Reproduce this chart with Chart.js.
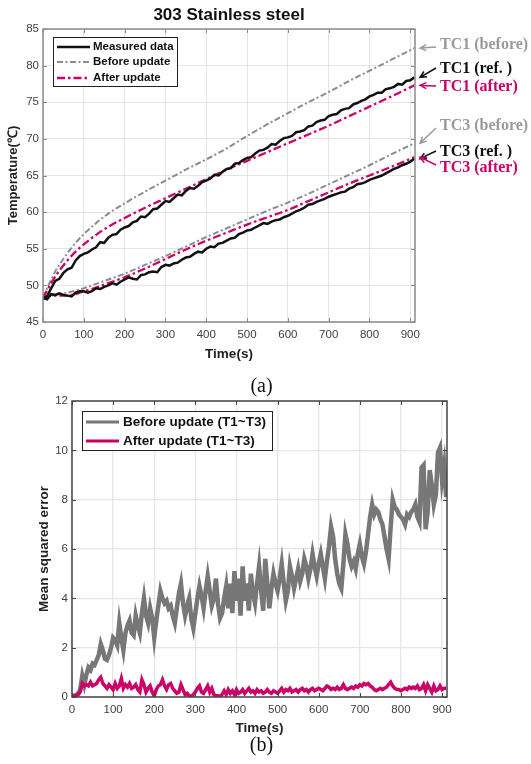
<!DOCTYPE html>
<html>
<head>
<meta charset="utf-8">
<script src="https://cdn.jsdelivr.net/npm/chart.js@4.4.1/dist/chart.umd.min.js"></script>
<style>
  body { margin: 0; background: #fff; }
  #wrap { position: relative; width: 531px; height: 764px; overflow: hidden; }
  canvas { position: absolute; left: 0; }
  #tempChart { top: 0; }
  #mseChart { top: 380px; }
  .cap { position: absolute; left: -4px; width: 531px; text-align: center; font-family: "Liberation Serif", "Times New Roman", serif; font-size: 20px; line-height: 24px; color: #111; }
</style>
</head>
<body>
<div id="wrap">
  <canvas id="tempChart" width="531" height="362"></canvas>
  <canvas id="mseChart" width="531" height="356"></canvas>
  <div class="cap" style="top:373px">(a)</div>
  <div class="cap" style="top:732px">(b)</div>
</div>
<script>
// ---- (a) temperature data ----
const measTime = [0, 10, 20, 30, 40, 50, 60, 70, 80, 90, 100, 110, 120, 130, 140, 150, 160, 170, 180, 190,
  200, 210, 220, 230, 240, 250, 260, 270, 280, 290, 300, 310, 320, 330, 340, 350, 360, 370, 380, 390,
  400, 410, 420, 430, 440, 450, 460, 470, 480, 490, 500, 510, 520, 530, 540, 550, 560, 570, 580, 590,
  600, 610, 620, 630, 640, 650, 660, 670, 680, 690, 700, 710, 720, 730, 740, 750, 760, 770, 780, 790,
  800, 810, 820, 830, 840, 850, 860, 870, 880, 890, 900, 910];
const tc1Measured = [48.2, 48.5, 49.6, 50.6, 50.9, 51.7, 52.2, 52.4, 53.4, 54.0, 54.3, 54.5, 54.9, 55.2, 55.9, 55.8, 56.5, 56.9, 57.0, 57.6,
  57.9, 58.1, 58.6, 58.8, 59.4, 59.3, 59.8, 60.4, 60.5, 61.0, 61.5, 61.4, 61.9, 62.4, 62.3, 62.9, 63.3, 63.2, 63.6, 64.1,
  64.3, 64.6, 65.1, 65.0, 65.5, 65.9, 66.0, 66.6, 66.7, 67.1, 67.4, 67.5, 68.0, 68.4, 68.5, 68.8, 69.3, 69.2, 69.7, 70.1,
  70.2, 70.4, 70.9, 71.0, 71.2, 71.7, 71.8, 72.3, 72.5, 72.6, 73.1, 73.3, 73.4, 73.9, 74.1, 74.2, 74.7, 74.9, 75.2, 75.4,
  75.8, 76.0, 76.3, 76.3, 76.8, 76.9, 77.1, 77.5, 77.4, 77.9, 78.0, 78.4];
const tc3Measured = [48.3, 48.1, 48.8, 48.7, 48.9, 48.7, 48.6, 48.5, 49.0, 49.2, 49.2, 49.0, 49.2, 49.6, 49.5, 49.8, 50.0, 50.3, 50.1, 50.5,
  50.8, 51.1, 50.9, 50.8, 51.4, 51.5, 51.8, 51.9, 51.8, 52.5, 52.8, 52.7, 53.0, 53.1, 53.5, 53.8, 53.9, 54.3, 54.6, 54.5,
  55.0, 55.3, 55.2, 55.7, 55.8, 56.1, 56.4, 56.5, 57.0, 57.2, 57.5, 57.6, 57.9, 58.2, 58.5, 58.4, 58.7, 58.9, 59.0, 59.3,
  59.5, 59.8, 60.1, 60.3, 60.6, 61.0, 61.1, 61.4, 61.6, 61.8, 62.1, 62.3, 62.5, 62.7, 62.8, 63.2, 63.4, 63.8, 63.9, 64.1,
  64.4, 64.6, 64.8, 65.0, 65.3, 65.6, 65.9, 66.1, 66.4, 66.6, 66.9, 67.3];

const simTime = [0, 10, 20, 30, 40, 60, 80, 100, 130, 160, 200, 250, 300, 350, 400, 450, 500, 550, 600, 650, 700, 750, 800, 850, 910];
const tc1Before = [48.3, 49.6, 50.8, 51.9, 52.8, 54.4, 55.8, 57.0, 58.5, 59.8, 61.2, 62.8, 64.3, 65.8, 67.2, 68.7, 70.4, 72.0, 73.5, 75.0, 76.4, 77.9, 79.3, 80.7, 82.4];
const tc1After = [48.3, 49.3, 50.3, 51.2, 52.0, 53.4, 54.6, 55.6, 56.9, 58.0, 59.2, 60.6, 61.9, 63.2, 64.5, 65.8, 67.0, 68.2, 69.4, 70.6, 71.8, 73.1, 74.4, 75.7, 77.3];
const tc3Before = [48.4, 48.5, 48.6, 48.7, 48.8, 49.0, 49.3, 49.6, 50.2, 50.8, 51.6, 52.8, 54.0, 55.3, 56.6, 57.8, 59.0, 60.2, 61.3, 62.5, 63.8, 65.1, 66.4, 67.8, 69.4];
const tc3After = [48.4, 48.5, 48.6, 48.6, 48.6, 48.6, 48.8, 49.2, 49.7, 50.3, 51.1, 52.3, 53.6, 54.9, 56.1, 57.2, 58.3, 59.3, 60.3, 61.5, 62.7, 63.9, 65.0, 66.1, 67.5];

const seriesNames = ["Measured data", "Before update", "After update"];
const tcText = ["TC1 (before)", "TC1 (ref. )", "TC1 (after)", "TC3 (before)", "TC3 (ref. )", "TC3 (after)"];

// ---- (b) mean squared error data ----
const mseTime = [0, 5, 10, 15, 20, 25, 30, 35, 40, 45, 50, 55, 60, 65, 70, 75, 80, 85, 90, 95,
  100, 105, 110, 115, 120, 125, 130, 135, 140, 145, 150, 155, 160, 165, 170, 175, 180, 185, 190, 195,
  200, 205, 210, 215, 220, 225, 230, 235, 240, 245, 250, 255, 260, 265, 270, 275, 280, 285, 290, 295,
  300, 305, 310, 315, 320, 325, 330, 335, 340, 345, 350, 355, 360, 365, 370, 375, 380, 385, 390, 395,
  400, 405, 410, 415, 420, 425, 430, 435, 440, 445, 450, 455, 460, 465, 470, 475, 480, 485, 490, 495,
  500, 505, 510, 515, 520, 525, 530, 535, 540, 545, 550, 555, 560, 565, 570, 575, 580, 585, 590, 595,
  600, 605, 610, 615, 620, 625, 630, 635, 640, 645, 650, 655, 660, 665, 670, 675, 680, 685, 690, 695,
  700, 705, 710, 715, 720, 725, 730, 735, 740, 745, 750, 755, 760, 765, 770, 775, 780, 785, 790, 795,
  800, 805, 810, 815, 820, 825, 830, 835, 840, 845, 850, 855, 860, 865, 870, 875, 880, 885, 890, 895,
  900, 905, 910];
const mseBefore = [0.05, 0.05, 0.08, 0.15, 0.3, 0.85, 0.5, 0.9, 1.2, 1.1, 1.35, 1.3, 1.5, 1.7, 2.15, 1.9, 1.55, 1.5, 1.7, 2.0,
  2.4, 2.3, 2.1, 3.0, 2.4, 1.9, 2.6, 2.9, 3.1, 2.6, 2.5, 3.3, 2.9, 2.6, 3.4, 4.0, 3.3, 3.0, 3.6, 3.2,
  2.4, 3.1, 3.7, 4.3, 4.0, 3.8, 3.9, 3.6, 3.7, 3.3, 3.0, 3.6, 4.2, 4.6, 3.8, 3.3, 3.7, 4.0, 3.2, 2.8,
  3.4, 4.0, 4.5, 4.1, 3.6, 4.3, 4.9, 4.3, 3.7, 4.0, 4.8, 3.8, 3.2, 3.4, 4.0, 4.5, 3.6, 4.6, 3.4, 5.1,
  3.9, 4.8, 3.3, 5.3, 3.9, 4.6, 3.5, 5.0, 4.2, 3.8, 4.6, 5.3, 4.3, 3.5, 5.6, 4.6, 3.6, 4.4, 5.0, 4.6,
  4.3, 4.8, 5.4, 4.6, 3.9, 4.3, 5.3, 4.9, 4.4, 4.8, 5.2, 4.7, 5.0, 5.6, 5.3, 4.8, 5.2, 5.8, 5.3, 4.9,
  5.4, 5.8, 5.3, 4.8, 5.5, 6.1, 6.9, 6.5, 5.6, 5.0, 4.6, 4.4, 5.4, 6.6, 6.2, 5.6, 5.3, 5.5, 5.2, 5.8,
  6.2, 5.7, 5.4, 5.9, 6.6, 7.3, 7.8, 7.4, 7.6, 7.5, 7.2, 7.0, 6.5, 6.0, 5.6, 6.9, 8.0, 7.7, 7.6, 7.4,
  7.3, 7.2, 7.0, 7.4, 7.3, 7.5, 7.6, 7.8, 7.3, 7.1, 9.3, 9.4, 6.8, 7.5, 9.2, 8.6, 7.8, 8.2, 9.9, 10.1,
  8.8, 9.4, 8.1];
const mseAfter = [0.05, 0.05, 0.05, 0.1, 0.2, 0.55, 0.45, 0.5, 0.45, 0.6, 0.45, 0.5, 0.55, 0.7, 0.8, 0.55, 0.45, 0.35, 0.5, 0.4,
  0.3, 0.55, 0.35, 0.45, 0.75, 0.35, 0.5, 0.4, 0.55, 0.35, 0.4, 0.5, 0.3, 0.2, 0.7, 0.5, 0.2, 0.35, 0.45, 0.2,
  0.05, 0.3, 0.45, 0.5, 0.7, 0.45, 0.3, 0.5, 0.55, 0.35, 0.25, 0.15, 0.2, 0.5, 0.3, 0.1, 0.15, 0.05, 0.02, 0.1,
  0.2, 0.35, 0.45, 0.2, 0.15, 0.3, 0.45, 0.2, 0.35, 0.1, 0.05, 0.05, 0.02, 0.1, 0.25, 0.1, 0.3, 0.15, 0.25, 0.1,
  0.3, 0.15, 0.2, 0.3, 0.15, 0.25, 0.35, 0.2, 0.25, 0.15, 0.3, 0.2, 0.25, 0.15, 0.2, 0.3, 0.2, 0.15, 0.25, 0.2,
  0.15, 0.25, 0.35, 0.2, 0.3, 0.25, 0.35, 0.2, 0.25, 0.3, 0.2, 0.3, 0.35, 0.25, 0.3, 0.2, 0.3, 0.35, 0.25, 0.3,
  0.35, 0.3, 0.25, 0.35, 0.45, 0.4, 0.3, 0.35, 0.3, 0.4, 0.3, 0.35, 0.5, 0.35, 0.3, 0.35, 0.4, 0.35, 0.45, 0.4,
  0.5, 0.45, 0.55, 0.5, 0.55, 0.45, 0.4, 0.3, 0.25, 0.3, 0.35, 0.3, 0.35, 0.4, 0.5, 0.6, 0.45, 0.35, 0.3, 0.3,
  0.25, 0.3, 0.35, 0.3, 0.4, 0.35, 0.4, 0.35, 0.45, 0.3, 0.35, 0.5, 0.25, 0.5, 0.35, 0.2, 0.45, 0.25, 0.3, 0.45,
  0.3, 0.35, 0.35];
const mseNames = ["Before update (T1~T3)", "After update (T1~T3)"];

const sansFont = "'Liberation Sans', Arial, Helvetica, sans-serif";
const magenta = "#cc0066";
const grayLine = "#8c8c8c";

Chart.defaults.font.family = sansFont;

function pts(xs, ys) {
  return xs.map((x, i) => ({ x: x, y: ys[i] }));
}

// MATLAB-like box round the axes with ticks pointing inward
function makeBox(color, width) {
  return {
    id: "boxAxes",
    afterDraw(chart) {
      const { ctx, chartArea: a, scales } = chart;
      ctx.save();
      ctx.strokeStyle = color;
      ctx.lineWidth = 1;
      ctx.beginPath();
      scales.x.ticks.forEach((t) => {
        const px = Math.round(scales.x.getPixelForValue(t.value)) + 0.5;
        ctx.moveTo(px, a.bottom);
        ctx.lineTo(px, a.bottom - 4);
        ctx.moveTo(px, a.top);
        ctx.lineTo(px, a.top + 4);
      });
      scales.y.ticks.forEach((t) => {
        const py = Math.round(scales.y.getPixelForValue(t.value)) + 0.5;
        ctx.moveTo(a.left, py);
        ctx.lineTo(a.left + 4, py);
        ctx.moveTo(a.right, py);
        ctx.lineTo(a.right - 4, py);
      });
      ctx.stroke();
      ctx.lineWidth = width;
      ctx.strokeRect(a.left, a.top, a.right - a.left, a.bottom - a.top);
      ctx.restore();
    },
  };
}

// legend in a framed box inside the plot area
function makeLegend(cfg) {
  return {
    id: "boxLegend",
    afterDraw(chart) {
      const { ctx, chartArea: a } = chart;
      const x0 = a.left + cfg.x;
      const y0 = a.top + cfg.y;
      ctx.save();
      ctx.fillStyle = "#fff";
      ctx.fillRect(x0, y0, cfg.w, cfg.h);
      ctx.strokeStyle = "#222";
      ctx.lineWidth = 1;
      ctx.strokeRect(x0 + 0.5, y0 + 0.5, cfg.w, cfg.h);
      ctx.font = cfg.font;
      ctx.textBaseline = "middle";
      cfg.items.forEach((di, i) => {
        const ds = chart.data.datasets[di];
        const yy = y0 + cfg.rows[i];
        ctx.beginPath();
        ctx.setLineDash(ds.borderDash || []);
        ctx.strokeStyle = ds.borderColor;
        ctx.lineWidth = Math.min(ds.borderWidth, 3);
        ctx.moveTo(x0 + cfg.lineX[0], yy);
        ctx.lineTo(x0 + cfg.lineX[1], yy);
        ctx.stroke();
        ctx.setLineDash([]);
        ctx.fillStyle = "#111";
        ctx.fillText(ds.label, x0 + cfg.textX, yy);
      });
      ctx.restore();
    },
  };
}

// TC labels with arrows pointing at the ends of the curves
const tcNotes = [
  { text: tcText[0], color: "#9a9a9a", ds: 4, ty: 45, tail: 2 },
  { text: tcText[1], color: "#111111", ds: 0, ty: 69, tail: -1 },
  { text: tcText[2], color: magenta, ds: 2, ty: 87, tail: -1 },
  { text: tcText[3], color: "#9a9a9a", ds: 5, ty: 126, tail: 2 },
  { text: tcText[4], color: "#111111", ds: 1, ty: 152, tail: -1 },
  { text: tcText[5], color: magenta, ds: 3, ty: 168, tail: -3 },
];
const tcArrows = {
  id: "tcArrows",
  afterDraw(chart) {
    const { ctx, chartArea: a, scales } = chart;
    ctx.save();
    ctx.font = "bold 16px 'Liberation Serif', 'Times New Roman', serif";
    ctx.textBaseline = "middle";
    tcNotes.forEach((n) => {
      const data = chart.data.datasets[n.ds].data;
      const tipX = a.right + 5;
      const tipY = scales.y.getPixelForValue(data[data.length - 1].y);
      const tailX = a.right + 21;
      const tailY = n.ty + n.tail;
      const ang = Math.atan2(tailY - tipY, tailX - tipX);
      ctx.strokeStyle = n.color;
      ctx.lineWidth = 1.5;
      ctx.beginPath();
      ctx.moveTo(tailX, tailY);
      ctx.lineTo(tipX, tipY);
      ctx.moveTo(tipX + 7 * Math.cos(ang + 0.45), tipY + 7 * Math.sin(ang + 0.45));
      ctx.lineTo(tipX, tipY);
      ctx.lineTo(tipX + 7 * Math.cos(ang - 0.45), tipY + 7 * Math.sin(ang - 0.45));
      ctx.stroke();
      ctx.fillStyle = n.color;
      ctx.fillText(n.text, a.right + 25, n.ty);
    });
    ctx.restore();
  },
};

const tickStyle = { color: "#404040", font: { size: 11.5 } };
const axisTitleFont = { size: 13.5, weight: "bold" };

new Chart(document.getElementById("tempChart"), {
  type: "line",
  data: {
    datasets: [
      { label: seriesNames[0], data: pts(measTime, tc1Measured), borderColor: "#111", borderWidth: 2.5 },
      { label: seriesNames[0], data: pts(measTime, tc3Measured), borderColor: "#111", borderWidth: 2.5 },
      { label: seriesNames[2], data: pts(simTime, tc1After), borderColor: magenta, borderWidth: 2.3, borderDash: [8, 3, 2.5, 3], cubicInterpolationMode: "monotone" },
      { label: seriesNames[2], data: pts(simTime, tc3After), borderColor: magenta, borderWidth: 2.3, borderDash: [8, 3, 2.5, 3], cubicInterpolationMode: "monotone" },
      { label: seriesNames[1], data: pts(simTime, tc1Before), borderColor: grayLine, borderWidth: 2, borderDash: [6, 2.5, 2, 2.5], cubicInterpolationMode: "monotone" },
      { label: seriesNames[1], data: pts(simTime, tc3Before), borderColor: grayLine, borderWidth: 2, borderDash: [6, 2.5, 2, 2.5], cubicInterpolationMode: "monotone" },
    ],
  },
  options: {
    responsive: false,
    animation: false,
    devicePixelRatio: 1,
    events: [],
    elements: { point: { radius: 0 }, line: { tension: 0 } },
    layout: { padding: { left: 0, right: 116, top: 0, bottom: 0 } },
    plugins: {
      legend: { display: false },
      tooltip: { enabled: false },
      title: {
        display: true,
        fullSize: false,
        text: "303 Stainless steel",
        color: "#111",
        font: { size: 17, weight: "bold" },
        padding: { top: 5, bottom: 3.6 },
      },
    },
    scales: {
      x: {
        type: "linear",
        min: 0,
        max: 911.5,
        afterFit: (s) => { s.height = 40; },
        ticks: { ...tickStyle, stepSize: 100, includeBounds: false, padding: 6, maxRotation: 0 },
        grid: { color: "#e4e4e4", drawTicks: false },
        border: { display: false },
        title: { display: true, text: "Time(s)", color: "#222", font: axisTitleFont, padding: { top: 0, bottom: 0 } },
      },
      y: {
        min: 45,
        max: 85,
        afterFit: (s) => { s.width = 43; },
        ticks: { ...tickStyle, stepSize: 5, padding: 4 },
        grid: { color: "#e4e4e4", drawTicks: false },
        border: { display: false },
        title: { display: true, text: "Temperature(℃)", color: "#222", font: { size: 13, weight: "bold" }, padding: { top: 6, bottom: 0 } },
      },
    },
  },
  plugins: [
    makeBox("#8a8a8a", 1.5),
    makeLegend({ x: 10, y: 8, w: 124, h: 49, rows: [10, 25, 41], lineX: [4, 37], textX: 40, items: [0, 4, 2], font: "bold 11.5px " + sansFont }),
    tcArrows,
  ],
});

new Chart(document.getElementById("mseChart"), {
  type: "line",
  data: {
    datasets: [
      { label: mseNames[1], data: pts(mseTime, mseAfter), borderColor: magenta, borderWidth: 3.5 },
      { label: mseNames[0], data: pts(mseTime, mseBefore), borderColor: "#777777", borderWidth: 4.5 },
    ],
  },
  options: {
    responsive: false,
    animation: false,
    devicePixelRatio: 1,
    events: [],
    elements: { point: { radius: 0 }, line: { tension: 0 } },
    layout: { padding: { left: 0, right: 84, top: 21, bottom: 0 } },
    plugins: { legend: { display: false }, tooltip: { enabled: false } },
    scales: {
      x: {
        type: "linear",
        min: 0,
        max: 912,
        afterFit: (s) => { s.height = 39; },
        ticks: { ...tickStyle, stepSize: 100, includeBounds: false, padding: 6, maxRotation: 0 },
        grid: { color: "#e6e6e6", lineWidth: 1.3, drawTicks: false },
        border: { display: false },
        title: { display: true, text: "Time(s)", color: "#222", font: axisTitleFont, padding: { top: 0, bottom: 0 } },
      },
      y: {
        min: 0,
        max: 12,
        afterFit: (s) => { s.width = 72; },
        ticks: { ...tickStyle, stepSize: 2, padding: 4 },
        grid: { color: "#e6e6e6", lineWidth: 1.3, drawTicks: false },
        border: { display: false },
        title: { display: true, text: "Mean squared error", color: "#222", font: axisTitleFont, padding: { top: 36, bottom: 0 } },
      },
    },
  },
  plugins: [
    makeBox("#444444", 1.5),
    makeLegend({ x: 10, y: 10, w: 190, h: 39, rows: [11, 30], lineX: [4, 37], textX: 41, items: [1, 0], font: "bold 13.5px " + sansFont }),
  ],
});
</script>
</body>
</html>
